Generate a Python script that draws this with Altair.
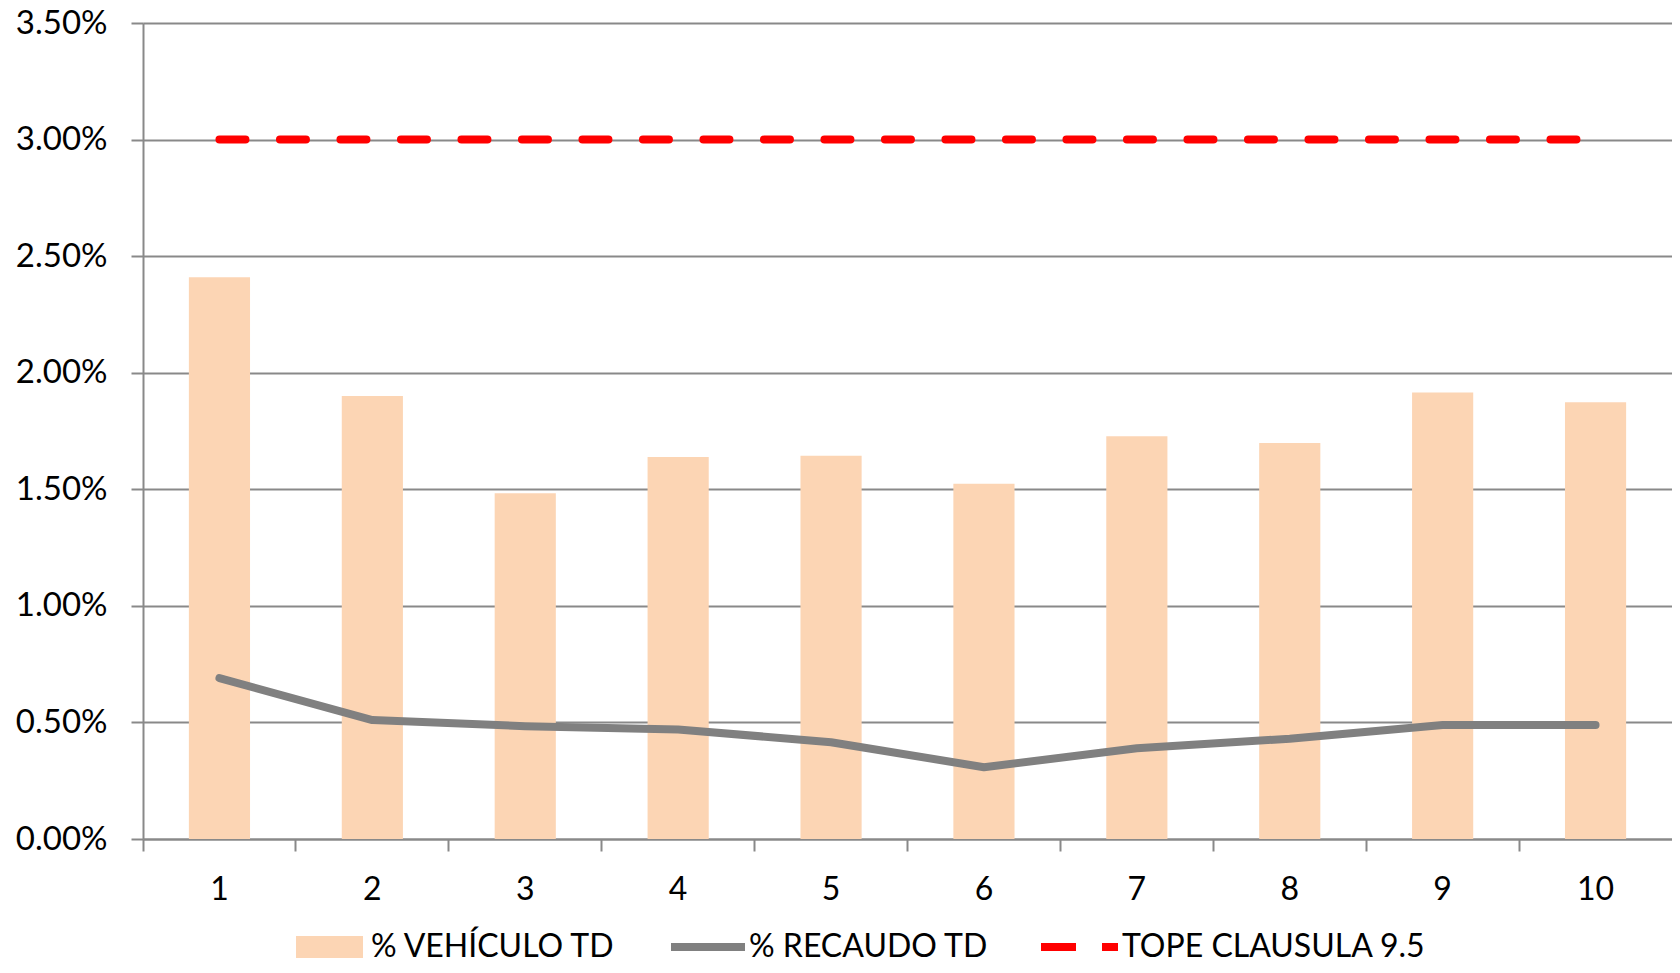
import altair as alt
import pandas as pd

categorias = ["1", "2", "3", "4", "5", "6", "7", "8", "9", "10"]
vehiculo_td = [0.0241, 0.0190, 0.01483, 0.01639, 0.01644, 0.01524, 0.01727, 0.01699, 0.01915, 0.01873]
recaudo_td = [0.0069, 0.0051, 0.00484, 0.0047, 0.00415, 0.00308, 0.00389, 0.0043, 0.00489, 0.00489]
tope_clausula = [0.03] * 10
series = ["% VEHÍCULO TD", "% RECAUDO TD", "TOPE CLAUSULA 9.5"]
colores = ["#FCD5B4", "#808080", "#FF0000"]
y_ticks = [0.0, 0.005, 0.01, 0.015, 0.02, 0.025, 0.03, 0.035]

FONT = "Lato"
GRID = "#898989"
W, H = 1529, 816
LEG_CY = 924

df_bar = pd.DataFrame({"cat": categorias, "v": vehiculo_td, "serie": series[0]})
df_rec = pd.DataFrame({"cat": categorias, "v": recaudo_td, "serie": series[1]})
df_top = pd.DataFrame({"cat": categorias, "v": tope_clausula, "serie": series[2]})

x_enc = alt.X(
    "cat:O", sort=categorias,
    scale=alt.Scale(paddingInner=0, paddingOuter=0),
    axis=alt.Axis(
        title=None, grid=False, bandPosition=0,
        ticks=True, tickSize=12, tickColor=GRID, tickWidth=2,
        domainColor=GRID, domainWidth=2, labelAngle=0,
        labelFont=FONT, labelFontSize=32, labelColor="#000000", labelPadding=23,
    ),
)
y_enc = alt.Y(
    "v:Q",
    scale=alt.Scale(domain=[0, 0.035], nice=False, zero=True),
    axis=alt.Axis(
        title=None, values=y_ticks, format=".2%", grid=True, gridColor=GRID, gridWidth=2,
        tickSize=12, tickColor=GRID, tickWidth=2, domainColor=GRID, domainWidth=2,
        labelFont=FONT, labelFontSize=33, labelColor="#000000", labelPadding=24,
    ),
)


def leg(x, size, offset, dy=0, **kw):
    return alt.Legend(
        title=None, orient="none", legendX=x, legendY=LEG_CY - size ** 0.5 / 2 - dy,
        labelFont=FONT, labelFontSize=32, labelColor="#000000", labelLimit=0,
        labelOffset=offset, symbolSize=size, padding=0, symbolOpacity=1, **kw,
    )


def color(i, legend):
    return alt.Color("serie:N", scale=alt.Scale(domain=[series[i]], range=[colores[i]]), legend=legend)


bars = alt.Chart(df_bar).mark_bar(width=alt.RelativeBandSize(0.4)).encode(
    x=x_enc, y=y_enc,
    color=color(0, leg(153, 4489, 8, symbolType="M-1,-0.33H1V0.33H-1Z", symbolStrokeWidth=0)),
)
rec = alt.Chart(df_rec).mark_line(strokeWidth=8, strokeCap="round", strokeJoin="round").encode(
    x=x_enc, y=y_enc,
    color=color(1, leg(524, 5476, 0, dy=4, symbolType="stroke", symbolStrokeWidth=8)),
)
top = alt.Chart(df_top).mark_line(strokeWidth=8, strokeCap="round", strokeDash=[26, 34.5]).encode(
    x=x_enc, y=y_enc,
    color=color(2, leg(894, 5929, 0, dy=4, symbolType="stroke", symbolStrokeWidth=8, symbolDash=[35, 26])),
)

chart = alt.layer(bars, rec, top).resolve_scale(color="independent").properties(
    width=W, height=H,
    autosize=alt.AutoSizeParams(type="none"),
    padding={"left": 135, "top": 15, "right": 0, "bottom": 126},
).configure_view(stroke=None).configure(font=FONT, background="#FFFFFF")

chart.save("out.html", embed_options={"renderer": "svg", "actions": False})
